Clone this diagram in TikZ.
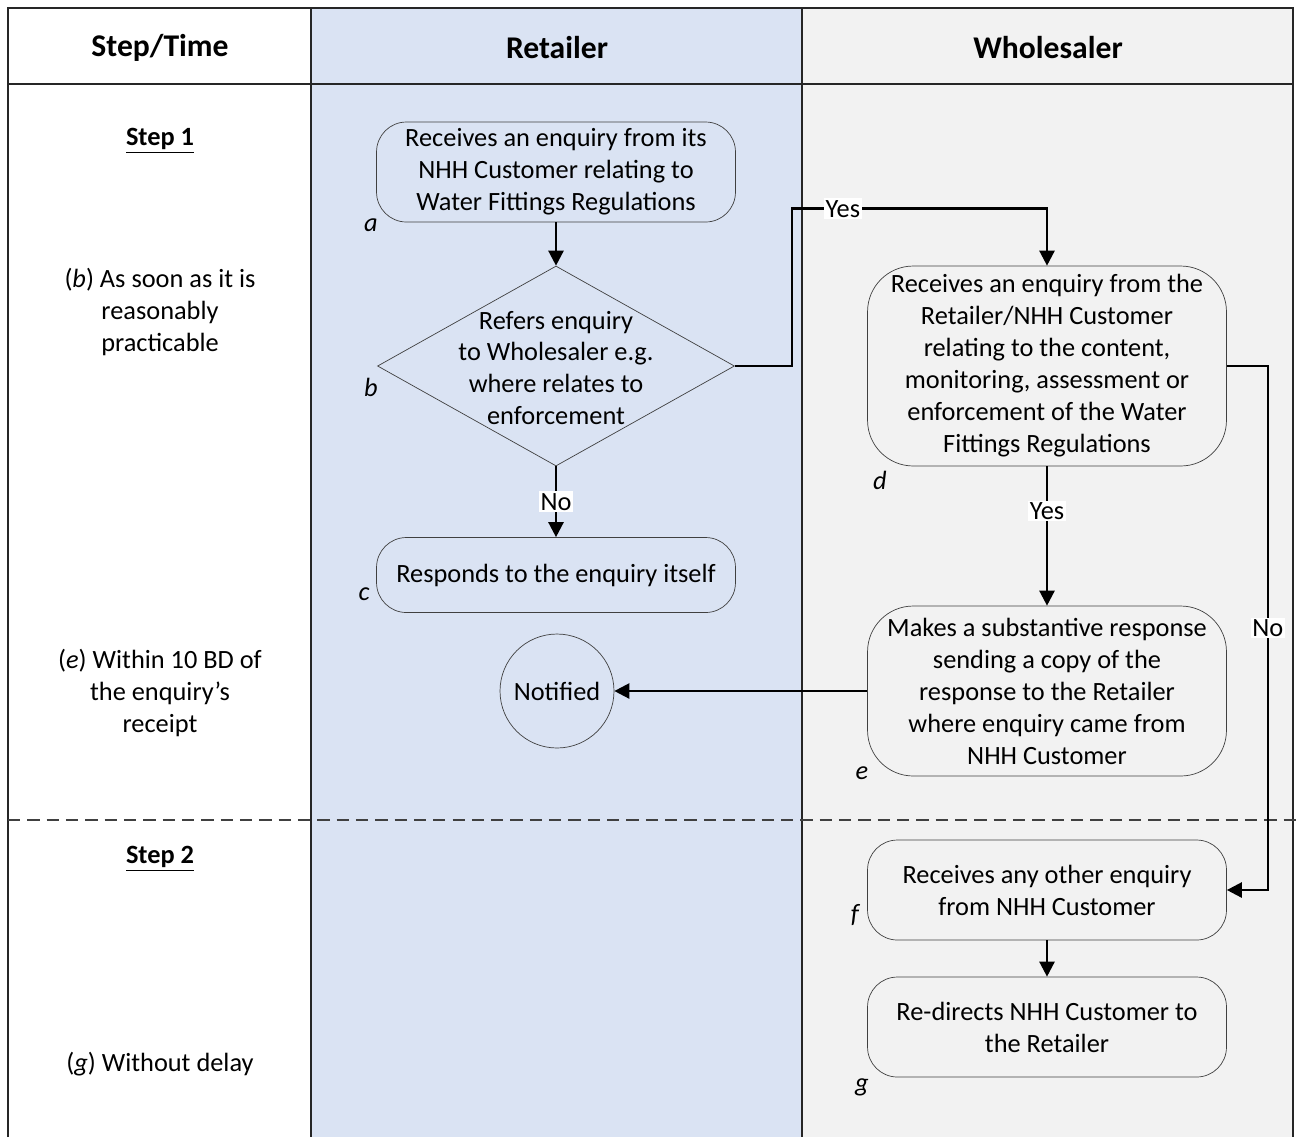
\documentclass[tikz,border=0pt]{standalone}
\usepackage{fontspec}
\setmainfont{Carlito}
\usetikzlibrary{shapes.geometric, arrows.meta, calc}

\definecolor{retailblue}{RGB}{218,227,243}
\definecolor{wholegray}{RGB}{242,242,242}
\definecolor{boxline}{RGB}{64,64,64}

\tikzset{
  process/.style={draw=boxline, rounded corners=17pt, minimum width=7.18cm,
    minimum height=2cm, align=center, inner sep=0pt},
  decision/.style={draw=boxline, diamond, minimum width=7.14cm,
    minimum height=4cm, inner sep=0pt},
  flow/.style={-{Triangle[length=8.5pt,width=8.5pt]}, line width=1.4pt},
  choice/.style={fill=white, inner sep=1pt},
  tag/.style={font=\fontsize{15}{18}\itshape},
  lane/.style={draw=black!85, line width=0.8pt},
  heading/.style={font=\fontsize{18}{22}\bfseries},
}

\begin{document}
\begin{tikzpicture}[x=0.02cm, y=-0.02cm, font=\fontsize{15}{18.2}\selectfont]
    \useasboundingbox (0,0) rectangle (1297,1137);
    % swim lanes
    \fill[retailblue] (311,8) rectangle (802,1137);
    \fill[wholegray] (802,8) rectangle (1293,1137);
    \draw[lane] (8,1137) -- (8,8) -- (1293,8) -- (1293,1137);
    \draw[lane] (8,84) -- (1293,84);
    \draw[lane] (311,8) -- (311,1137);
    \draw[lane] (802,8) -- (802,1137);
    \draw[boxline, line width=0.6pt, dash pattern=on 7pt off 4pt] (8,820) -- (1297,820);

    \node[heading] (head time)   at (160,48)  {Step/Time};
    \node[heading] (head retail) at (557,48)  {Retailer};
    \node[heading] (head whole)  at (1048,48) {Wholesaler};

    \node[font=\fontsize{15}{18}\bfseries] (step one) at (160,141) {\underline{Step 1}};
    \node[align=center] (time b) at (160,312) {(\textit{b}) As soon as it is\\reasonably\\practicable};
    \node[align=center] (time e) at (160,693) {(\textit{e}) Within 10 BD of\\the enquiry’s\\receipt};
    \node[font=\fontsize{15}{18}\bfseries] (step two) at (160,859) {\underline{Step 2}};
    \node (time g) at (160,1064) {(\textit{g}) Without delay};

    % retailer lane
    \node[process] (a) at (556,172) {Receives an enquiry from its\\NHH Customer relating to\\Water Fittings Regulations};
    \node[decision] (b) at (556,366) {};
    \node[align=center] (b text) at (556,368) {Refers enquiry\\to Wholesaler e.g.\\where relates to\\enforcement};
    \node[process, minimum height=1.5cm] (c) at (556,575) {Responds to the enquiry itself};
    \node[draw=boxline, circle, minimum size=2.28cm, inner sep=0pt] (notified) at (557,691) {Notified};

    % wholesaler lane
    \node[process, rounded corners=26pt, minimum height=4cm] (d) at (1047,366) {Receives an enquiry from the\\Retailer/NHH Customer\\relating to the content,\\monitoring, assessment or\\enforcement of the Water\\Fittings Regulations};
    \node[process, rounded corners=26pt, minimum height=3.4cm] (e) at (1047,691) {Makes a substantive response\\sending a copy of the\\response to the Retailer\\where enquiry came from\\NHH Customer};
    \node[process] (f) at (1047,890) {Receives any other enquiry\\from NHH Customer};
    \node[process] (g) at (1047,1027) {Re-directs NHH Customer to\\the Retailer};

    \node[tag] (tag a) at (371,225) {a};
    \node[tag] (tag b) at (371,387) {b};
    \node[tag] (tag c) at (364,594) {c};
    \node[tag] (tag d) at (880,480) {d};
    \node[tag] (tag e) at (862,773) {e};
    \node[tag] (tag f) at (855,915) {f};
    \node[tag] (tag g) at (862,1087) {g};

    \draw[flow] (a) -- (b);
    \draw[flow] (b) -- (c) node [choice,midway] {No};
    \draw[flow] (b.east) -- ++(57,0) |- ($(d.north)+(0,-57)$) node [choice,pos=0.6] {Yes} -- (d.north);
    \draw[flow] (d) -- (e) node [choice,pos=0.32] {Yes};
    \draw[flow] (d.east) -- ++(41,0) |- (f.east) node [choice,pos=0.25] {No};
    \draw[flow] (e) -- (notified);
    \draw[flow] (f) -- (g);
\end{tikzpicture}
\end{document}
